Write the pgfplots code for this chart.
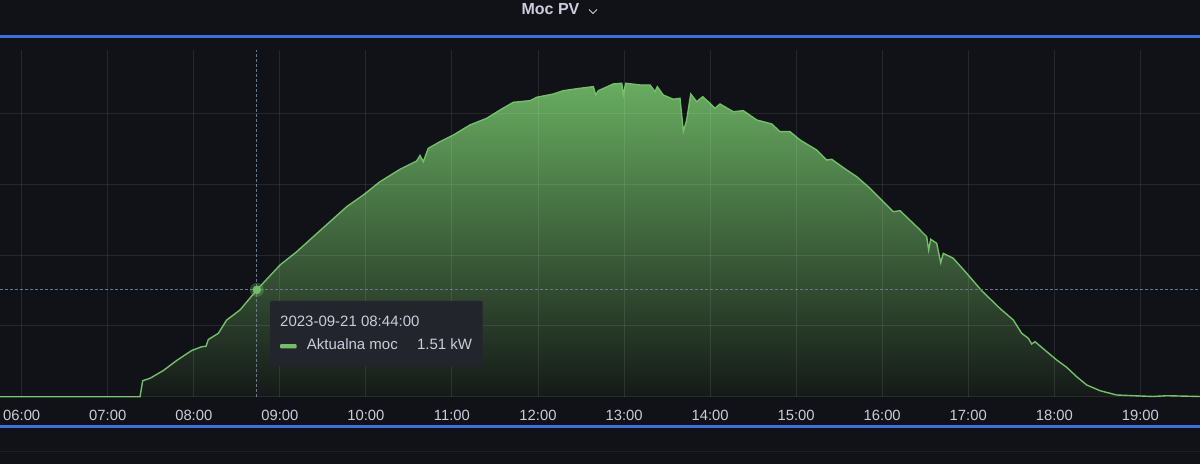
\documentclass[border=0pt]{standalone}
\usepackage{pgfplots}
\pgfplotsset{compat=1.18}
\usepackage{pgfplotstable}
\usepackage{fontspec}
\setmainfont{Liberation Sans}
\definecolor{bg}{RGB}{17,18,23}
\definecolor{pvgreen}{RGB}{115,191,105}
\definecolor{filltop}{RGB}{104,172,96}
\definecolor{fillbot}{RGB}{21,25,24}
\definecolor{panelblue}{RGB}{61,113,217}
\definecolor{txt}{RGB}{204,204,220}
\definecolor{tipbg}{RGB}{34,37,43}
\definecolor{cross}{RGB}{105,120,138}
\definecolor{strip}{RGB}{30,31,36}

\pgfplotstableread{
t v
5.748 0
7.375 0
7.406 0.226
7.491 0.260
7.646 0.370
7.801 0.511
7.976 0.653
8.092 0.706
8.142 0.712
8.169 0.808
8.285 0.895
8.382 1.083
8.537 1.225
8.7333 1.51
9.002 1.860
9.196 2.048
9.389 2.260
9.583 2.472
9.777 2.684
9.970 2.849
10.164 3.037
10.396 3.212
10.590 3.329
10.629 3.407
10.667 3.319
10.725 3.508
10.861 3.602
11.016 3.696
11.210 3.838
11.404 3.932
11.558 4.049
11.713 4.158
11.907 4.181
11.985 4.229
12.178 4.275
12.294 4.322
12.488 4.356
12.643 4.379
12.671 4.261
12.701 4.322
12.875 4.417
12.973 4.427
12.991 4.261
13.019 4.427
13.185 4.403
13.302 4.403
13.360 4.308
13.386 4.379
13.456 4.261
13.572 4.201
13.650 4.215
13.689 3.743
13.728 3.908
13.775 4.275
13.844 4.167
13.914 4.237
13.999 4.144
14.057 4.073
14.115 4.134
14.270 4.025
14.386 4.040
14.542 3.908
14.716 3.852
14.812 3.743
14.929 3.743
15.045 3.626
15.239 3.484
15.355 3.343
15.413 3.353
15.587 3.202
15.704 3.107
15.858 2.944
15.994 2.778
16.129 2.613
16.207 2.627
16.401 2.401
16.517 2.260
16.540 2.072
16.564 2.223
16.633 2.167
16.680 1.893
16.710 2.025
16.826 1.955
16.982 1.743
17.156 1.497
17.369 1.246
17.524 1.083
17.621 0.895
17.698 0.825
17.737 0.744
17.776 0.777
17.912 0.636
18.028 0.518
18.144 0.415
18.260 0.282
18.377 0.165
18.531 0.085
18.725 0.024
18.918 0.014
19.150 0.003
19.306 0.014
19.693 0.003
}\pvdata

\begin{document}
\begin{tikzpicture}[x=1pt,y=1pt]
\useasboundingbox (0,0) rectangle (1200,464);
\fill[bg] (0,0) rectangle (1200,464);
% panel accent lines
\fill[panelblue] (0,425.6) rectangle (1200,428.6);
\fill[panelblue] (0,36.4) rectangle (1200,39.2);
\fill[strip] (0,11.8) rectangle (1200,13.0);
% title
\node[anchor=base, inner sep=0, text=txt] at (550.5,449) {\fontsize{16}{19}\selectfont\bfseries Moc PV};
\draw[txt, line width=0.9pt] (589,454.5) -- (593,450.6) -- (597,454.5);

\begin{axis}[
  at={(0pt,67.3pt)}, anchor=south west,
  scale only axis, width=1200pt, height=346.7pt,
  xmin=5.7478, xmax=19.6932, ymin=0, ymax=4.897,
  axis line style={draw=none},
  major tick length=0pt,
  xtick={6,7,8,9,10,11,12,13,14,15,16,17,18,19},
  xticklabels={06:00,07:00,08:00,09:00,10:00,11:00,12:00,13:00,14:00,15:00,16:00,17:00,18:00,19:00},
  ytick={0,1,2,3,4}, yticklabels={},
  grid=major, grid style={white, opacity=0.09, line width=1pt},
  axis on top,
  clip=false,
  xticklabel style={font=\fontsize{14.8}{17}\selectfont, text=txt, anchor=base, yshift=-23.3pt, inner sep=0pt},
]
\addplot[draw=none, top color=filltop, bottom color=fillbot] table[x=t,y=v]{\pvdata} \closedcycle;
\addplot[pvgreen, line width=1.4pt] table[x=t,y=v]{\pvdata};
\draw[cross, dash pattern=on 2.5pt off 2.5pt, line width=1pt] (axis cs:8.7333,0) -- (axis cs:8.7333,4.897);
\draw[cross, dash pattern=on 2.5pt off 2.5pt, line width=1pt] (axis cs:5.7478,1.51) -- (axis cs:19.6932,1.51);
\addplot[only marks, color=pvgreen, mark=*, mark size=7pt, mark options={solid, fill=pvgreen, draw=pvgreen, fill opacity=0.3, draw opacity=0}] coordinates {(8.7333,1.51)};
\addplot[only marks, color=pvgreen, mark=*, mark size=4pt, mark options={solid, fill=pvgreen, draw=pvgreen, fill opacity=1, draw opacity=1}] coordinates {(8.7333,1.51)};
\end{axis}

% tooltip
\fill[tipbg, rounded corners=2pt] (270,97.3) rectangle (482.7,163);
\node[anchor=base west, inner sep=0, text=txt] at (280,138) {\fontsize{15}{18}\selectfont 2023-09-21 08:44:00};
\fill[pvgreen, rounded corners=1pt] (280,115.7) rectangle (296.7,120);
\node[anchor=base west, inner sep=0, text=txt] at (306.7,114.7) {\fontsize{15}{18}\selectfont Aktualna moc};
\node[anchor=base east, inner sep=0, text=txt] at (472.3,114.7) {\fontsize{15}{18}\selectfont 1.51 kW};
\end{tikzpicture}
\end{document}
